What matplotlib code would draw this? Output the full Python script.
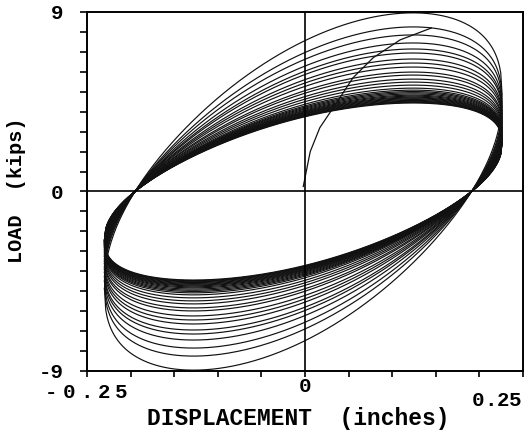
import numpy as np
import matplotlib.pyplot as plt
from matplotlib.transforms import blended_transform_factory

# ---- data ----
# lower-branch peak load of each cycle (kips, absolute), outer cycle first
cycle_peaks = [8.9, 8.2, 7.8, 7.4, 7.1, 6.9, 6.6, 6.4, 6.2, 5.95, 5.8, 5.6,
               5.45, 5.3, 5.15, 5.05, 4.98, 4.92, 4.86, 4.8, 4.75, 4.7,
               4.66, 4.62, 4.58, 4.54, 4.5, 4.47, 4.44, 4.41]
disp_amp = 0.228      # displacement reached at both ends of every cycle
disp_center = -0.002

# initial loading curve (displacement, load)
init_disp = [-0.002, 0.006, 0.017, 0.037, 0.055, 0.078, 0.109, 0.145]
init_load = [0.25, 2.0, 3.2, 4.5, 5.7, 6.7, 7.6, 8.2]

x_ticks = [-0.25, -0.2, -0.15, -0.1, -0.05, 0, 0.05, 0.1, 0.15, 0.2, 0.25]
y_ticks = [-9, 0, 9]
y_ticklabels = ["-9", "0", "9"]
# x tick labels shown in the scan: value, text, px below the axis, char pitch
x_labels = [(-0.251, "-0.25", 22, 17.5), (0.0, "0", 16, 17.5),
            (0.220, "0.25", 30, 12.5)]

plt.rcParams["font.family"] = ["Liberation Mono", "DejaVu Sans"]
plt.rcParams["font.weight"] = "bold"

fig = plt.figure(figsize=(5.24, 4.37), dpi=100)
ax = fig.add_axes([87 / 524, (437 - 371) / 437, 436 / 524, 359 / 437])


def branch(peak, sign):
    # one branch of a loop, going from one end of the stroke to the other
    h = peak / 1.183
    tip = 0.648 * h
    v = np.linspace(-1, 1, 300) * sign
    shape = np.cos(np.pi * v / 2).clip(0) ** 0.42
    return disp_center + v * disp_amp, tip * v + sign * h * shape


for peak in cycle_peaks:
    xu, yu = branch(peak, 1)
    xl, yl = branch(peak, -1)
    ax.plot(np.r_[xu, xl], np.r_[yu, yl], color="#111111", lw=0.85)

ax.plot(init_disp, init_load, color="#111111", lw=0.9)

ax.axhline(0, color="black", lw=1.2)
ax.axvline(0, color="black", lw=1.2)

ax.set_xlim(-0.25, 0.25)
ax.set_ylim(-9, 9)
ax.set_xticks(x_ticks)
ax.set_xticklabels([])
ax.set_yticks(y_ticks)
ax.set_yticklabels(y_ticklabels, fontsize=15)
ax.set_yticks(np.arange(-9, 10, 1), minor=True)
ax.tick_params(axis="y", which="both", direction="out", length=5, width=1.2,
               pad=12)
ax.tick_params(axis="x", which="both", direction="out", length=4, width=1.2)
for s in ax.spines.values():
    s.set_linewidth(1.4)

trans = blended_transform_factory(ax.transData, ax.transAxes)
for xv, txt, dy, pitch in x_labels:
    n = len(txt)
    for i, ch in enumerate(txt):
        dx = (i - (n - 1) / 2) * pitch
        ax.annotate(ch, xy=(xv, 0), xycoords=trans,
                    xytext=(dx * 0.72, -dy * 0.72), textcoords="offset points",
                    ha="center", va="center", fontsize=15,
                    annotation_clip=False)

fig.text(298 / 524, 1 - 419 / 437, "DISPLACEMENT  (inches)", ha="center",
         va="center", fontsize=16.5)
fig.text(17 / 524, 1 - 190 / 437, "LOAD  (kips)", ha="center", va="center",
         rotation=90, fontsize=14.5)

fig.savefig("out.png", dpi=100)
